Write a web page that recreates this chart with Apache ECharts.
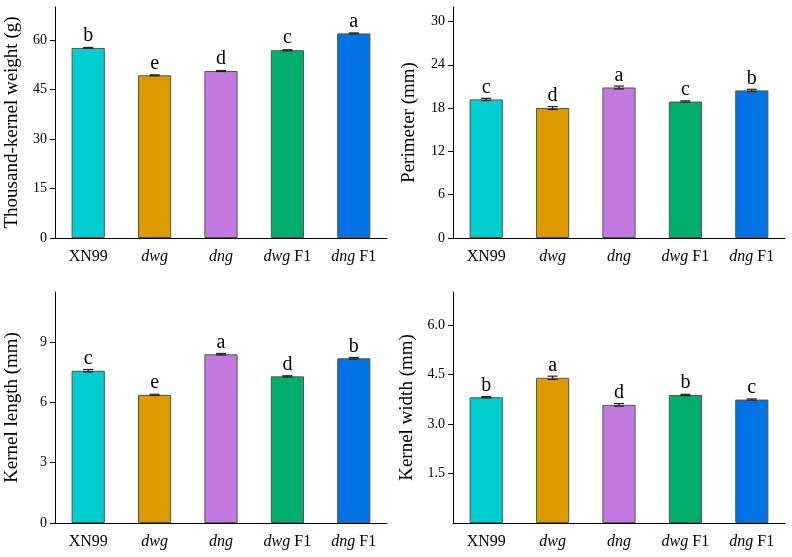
<!DOCTYPE html>
<html>
<head>
<meta charset="utf-8">
<script src="https://cdn.jsdelivr.net/npm/echarts@6/dist/echarts.min.js"></script>
<style>
html,body{margin:0;padding:0;background:#fff;}
#main{width:792px;height:557px;}
</style>
</head>
<body>
<div id="main"></div>
<script>
// categories and bar colours
var categories = ['XN99', 'dwg', 'dng', 'dwg F1', 'dng F1'];
var barColors = ['#00CDCD', '#DA9A00', '#C27AE0', '#00AD6A', '#0072E3'];

// thousand-kernel weight (g)
var tkwValues = [57.6, 49.3, 50.6, 56.9, 62.0];
var tkwErrors = [0.15, 0.15, 0.15, 0.15, 0.15];
var tkwLetters = ['b', 'e', 'd', 'c', 'a'];
var tkwTicks = [0, 15, 30, 45, 60];

// perimeter (mm)
var perValues = [19.2, 18.0, 20.85, 18.9, 20.45];
var perErrors = [0.15, 0.2, 0.2, 0.1, 0.15];
var perLetters = ['c', 'd', 'a', 'c', 'b'];
var perTicks = [0, 6, 12, 18, 24, 30];

// kernel length (mm)
var lenValues = [7.58, 6.38, 8.40, 7.30, 8.20];
var lenErrors = [0.06, 0.03, 0.04, 0.03, 0.04];
var lenLetters = ['c', 'e', 'a', 'd', 'b'];
var lenTicks = [0, 3, 6, 9];

// kernel width (mm)
var widValues = [3.81, 4.40, 3.58, 3.88, 3.74];
var widErrors = [0.02, 0.05, 0.04, 0.02, 0.02];
var widLetters = ['b', 'a', 'd', 'b', 'c'];
var widTicks = [1.5, 3.0, 4.5, 6.0];

var FONT = 'Liberation Serif';

var panels = [
    {title: 'Thousand-kernel weight (g)', values: tkwValues, errors: tkwErrors, letters: tkwLetters, ticks: tkwTicks, max: 70, digits: 0,
        left: 55, top: 7, nameGap: 33},
    {title: 'Perimeter (mm)', values: perValues, errors: perErrors, letters: perLetters, ticks: perTicks, max: 32, digits: 0,
        left: 453, top: 7, nameGap: 34},
    {title: 'Kernel length (mm)', values: lenValues, errors: lenErrors, letters: lenLetters, ticks: lenTicks, max: 11.5, digits: 0,
        left: 55, top: 292, nameGap: 33},
    {title: 'Kernel width (mm)', values: widValues, errors: widErrors, letters: widLetters, ticks: widTicks, max: 7, digits: 1,
        left: 453, top: 292, nameGap: 36}
];

//类目标签：基因型斜体
function catLabel(v){
    var parts = v.split(' ');
    if(parts[0] === 'XN99') return v;
    if(parts.length > 1) return '{i|' + parts[0] + '} ' + parts[1];
    return '{i|' + parts[0] + '}';
}

var grids = [], xAxes = [], yAxes = [], series = [];
panels.forEach(function(p, k){
    grids.push({left: p.left, top: p.top, width: 332, height: 231});
    xAxes.push({
        type: 'category',
        gridIndex: k,
        data: categories,
        axisLine: {lineStyle: {color: '#000', width: 1}},
        axisTick: {alignWithLabel: true, length: 5, lineStyle: {color: '#000'}},
        axisLabel: {
            interval: 0,
            fontFamily: FONT, fontSize: 16, color: '#000', margin: 11,
            formatter: catLabel,
            rich: {i: {fontFamily: FONT, fontSize: 16, fontStyle: 'italic', color: '#000'}}
        }
    });
    yAxes.push({
        type: 'value',
        gridIndex: k,
        min: 0,
        max: p.max,
        name: p.title,
        nameLocation: 'middle',
        nameGap: p.nameGap,
        nameTextStyle: {fontFamily: FONT, fontSize: 19, color: '#000'},
        axisLine: {show: true, lineStyle: {color: '#000', width: 1}},
        axisTick: {show: true, length: 5, customValues: p.ticks, lineStyle: {color: '#000'}},
        axisLabel: {
            fontFamily: FONT, fontSize: 14, color: '#000', margin: 8,
            customValues: p.ticks,
            formatter: function(v){ return v.toFixed(p.digits); }
        },
        splitLine: {show: false}
    });
    series.push({
        type: 'bar',
        xAxisIndex: k,
        yAxisIndex: k,
        barWidth: '50%',
        data: p.values.map(function(v, i){
            return {value: v, itemStyle: {color: barColors[i]}};
        }),
        itemStyle: {borderColor: '#555', borderWidth: 1},
        label: {
            show: true,
            position: 'top',
            distance: 2,
            fontFamily: FONT,
            fontSize: 20,
            color: '#000',
            formatter: function(params){ return p.letters[params.dataIndex]; }
        },
        silent: true
    });
    //误差线
    series.push({
        type: 'custom',
        xAxisIndex: k,
        yAxisIndex: k,
        data: p.values.map(function(v, i){ return [i, v - p.errors[i], v + p.errors[i]]; }),
        renderItem: function(params, api){
            var lo = api.coord([api.value(0), api.value(1)]);
            var hi = api.coord([api.value(0), api.value(2)]);
            var hw = 5;
            var style = {stroke: '#222', lineWidth: 1.2};
            return {
                type: 'group',
                children: [
                    {type: 'line', shape: {x1: lo[0], y1: lo[1], x2: hi[0], y2: hi[1]}, style: style},
                    {type: 'line', shape: {x1: lo[0] - hw, y1: lo[1], x2: lo[0] + hw, y2: lo[1]}, style: style},
                    {type: 'line', shape: {x1: hi[0] - hw, y1: hi[1], x2: hi[0] + hw, y2: hi[1]}, style: style}
                ]
            };
        },
        z: 5,
        silent: true
    });
});

var chart = echarts.init(document.getElementById('main'));
chart.setOption({
    animation: false,
    backgroundColor: '#fff',
    grid: grids,
    xAxis: xAxes,
    yAxis: yAxes,
    series: series
});
</script>
</body>
</html>
